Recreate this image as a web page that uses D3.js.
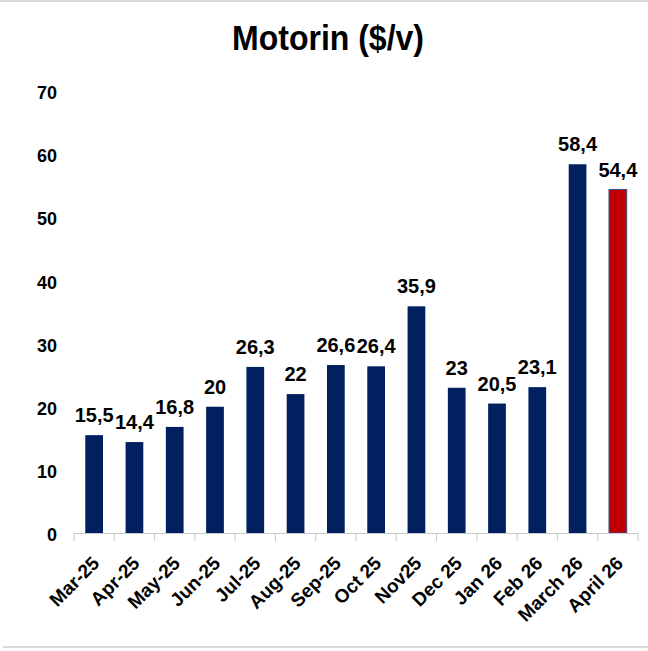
<!DOCTYPE html>
<html>
<head>
<meta charset="utf-8">
<script src="https://cdn.jsdelivr.net/npm/d3@7"></script>
<style>
  body { margin: 0; background: #fff; }
  svg text { font-family: "Liberation Sans", Arial, sans-serif; font-weight: bold; fill: #000; }
</style>
</head>
<body>
<svg id="chart" width="648" height="651"></svg>
<script>
// donnees
var months = ["Mar-25","Apr-25","May-25","Jun-25","Jul-25","Aug-25","Sep-25","Oct 25","Nov25","Dec 25","Jan 26","Feb 26","March 26","April 26"];
var values = [15.5, 14.4, 16.8, 20, 26.3, 22, 26.6, 26.4, 35.9, 23, 20.5, 23.1, 58.4, 54.4];
var yTicks = [0, 10, 20, 30, 40, 50, 60, 70];
var title = "Motorin ($/v)";

var svg = d3.select("#chart");
var W = 648;

var x = d3.scaleBand().domain(months).range([74, 638]).paddingInner(0.56).paddingOuter(0.28);
var y = d3.scaleLinear().domain([0, 70]).range([533, 91]);

// cadre gris haut et bas
svg.append("line").attr("x1", 0).attr("x2", W).attr("y1", 1).attr("y2", 1)
    .attr("stroke", "#d9d9d9").attr("stroke-width", 2);
svg.append("line").attr("x1", 3).attr("x2", W).attr("y1", 647).attr("y2", 647)
    .attr("stroke", "#d9d9d9").attr("stroke-width", 2);

// titre
svg.append("text")
    .attr("transform", "translate(328,50) scale(1,1.08)")
    .attr("text-anchor", "middle")
    .style("font-size", "32px")
    .text(title);

// axe y (labels seulement)
svg.append("g").selectAll("text").data(yTicks).enter().append("text")
    .attr("x", 57)
    .attr("y", function(d) { return y(d); })
    .attr("dy", "0.45em")
    .attr("text-anchor", "end")
    .style("font-size", "18px")
    .text(function(d) { return d; });

// barres
svg.append("g").selectAll("rect").data(values).enter().append("rect")
    .attr("x", function(d, i) { return x(months[i]); })
    .attr("y", function(d) { return y(d); })
    .attr("width", x.bandwidth())
    .attr("height", function(d) { return y(0) - y(d); })
    .attr("fill", function(d, i) { return i == months.length - 1 ? "#c00000" : "#002060"; })
    .attr("stroke", function(d, i) { return i == months.length - 1 ? "#3b4f8c" : "none"; })
    .attr("stroke-width", 1);

// etiquettes de valeurs
svg.append("g").selectAll("text").data(values).enter().append("text")
    .attr("x", function(d, i) { return x(months[i]) + x.bandwidth() / 2; })
    .attr("y", function(d) { return y(d) - 13; })
    .attr("text-anchor", "middle")
    .style("font-size", "20px")
    .text(function(d) { return String(d).replace(".", ","); });

// axe x
var step = x.step();
var x0 = 74;
var xAxis = svg.append("g").attr("class", "x axis");
xAxis.append("line").attr("x1", x0).attr("x2", x0 + step * months.length)
    .attr("y1", 533.5).attr("y2", 533.5).attr("stroke", "#c8c8c8").attr("stroke-width", 1);
xAxis.selectAll(".tk").data(d3.range(months.length + 1)).enter().append("line")
    .attr("class", "tk")
    .attr("x1", function(i) { return x0 + step * i; })
    .attr("x2", function(i) { return x0 + step * i; })
    .attr("y1", 533).attr("y2", 541)
    .attr("stroke", "#c8c8c8").attr("stroke-width", 1);

xAxis.selectAll(".lbl").data(months).enter().append("text")
    .attr("class", "lbl")
    .attr("text-anchor", "end")
    .style("font-size", "19px")
    .attr("transform", function(d) {
        var cx = x(d) + x.bandwidth() / 2 - 3;
        return "translate(" + cx + ",555) rotate(-45)";
    })
    .attr("dy", "0.7em")
    .text(function(d) { return d; });
</script>
</body>
</html>
